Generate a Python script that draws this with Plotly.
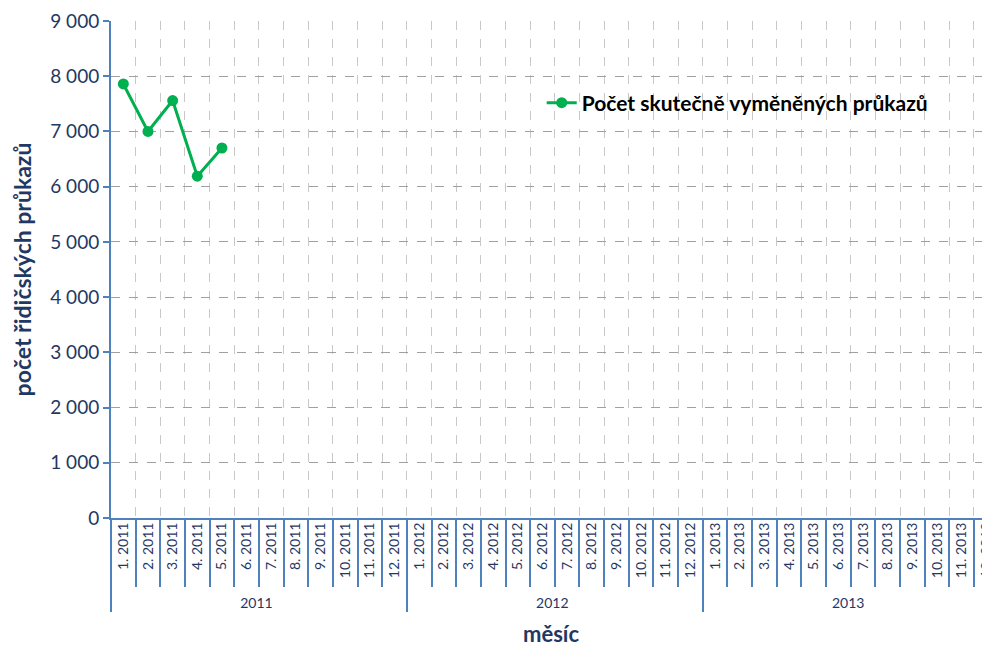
import plotly.graph_objects as go

years = ["2011", "2012", "2013"]
months = list(range(1, 13))
values = [7860, 7000, 7560, 6190, 6700]
series_name = "Počet skutečně vyměněných průkazů"
x_title = "měsíc"
y_title = "počet řidičských průkazů"

outer = []
inner = []
for y in years:
    for m in months:
        outer.append(y)
        inner.append(f"{m}. {y}")

yvals = values + [None] * (len(inner) - len(values))

axis_blue = "#4F81BD"
text_blue = "#1F3864"
green = "#00B050"
font_fam = "Lato, 'Open Sans', sans-serif"

fig = go.Figure()
fig.add_trace(go.Scatter(
    x=[outer, inner], y=yvals, mode="lines+markers", name=series_name,
    line=dict(color=green, width=3), marker=dict(size=11, color=green),
    connectgaps=False,
))

fig.update_layout(
    width=990, height=646,
    margin=dict(l=103, r=8, t=13, b=136),
    plot_bgcolor="white", paper_bgcolor="white",
    separators=", ",
    font=dict(family=font_fam, color=text_blue),
    showlegend=True,
    legend=dict(x=0.49, y=0.835, xanchor="left", yanchor="middle",
                font=dict(size=21, color="black", family=font_fam, weight="bold"),
                bgcolor="rgba(0,0,0,0)", itemwidth=30),
    xaxis=dict(
        type="multicategory",
        range=[-0.5, 35.15],
        automargin=False,
        showline=True, linecolor=axis_blue, linewidth=2,
        showgrid=True, gridcolor="#C8C8C8", griddash="dash", gridwidth=1,
        ticks="outside", tickson="boundaries", ticklen=67, tickcolor=axis_blue, tickwidth=1.5,
        tickangle=-90, tickfont=dict(size=14, color=text_blue),
        ticklabelstandoff=-3,
        showdividers=True, dividercolor=axis_blue, dividerwidth=1.5,
    ),
    yaxis=dict(
        range=[0, 9000], dtick=1000, tickformat=",d",
        automargin=False,
        showline=True, linecolor=axis_blue, linewidth=2,
        showgrid=True, gridcolor="#A0A0A0", griddash="dash", gridwidth=1,
        ticks="outside", ticklen=6, tickcolor=axis_blue, tickwidth=2,
        tickfont=dict(size=19, color=text_blue),
        zeroline=False,
        title=dict(text=y_title, font=dict(size=23, color=text_blue, weight="bold"), standoff=12),
    ),
    annotations=[dict(
        text=x_title, xref="paper", yref="paper", x=0.5, y=0,
        xanchor="center", yanchor="middle", yshift=-115, showarrow=False,
        font=dict(size=22, color=text_blue, weight="bold"),
    )],
)

fig.write_html("out.html")
